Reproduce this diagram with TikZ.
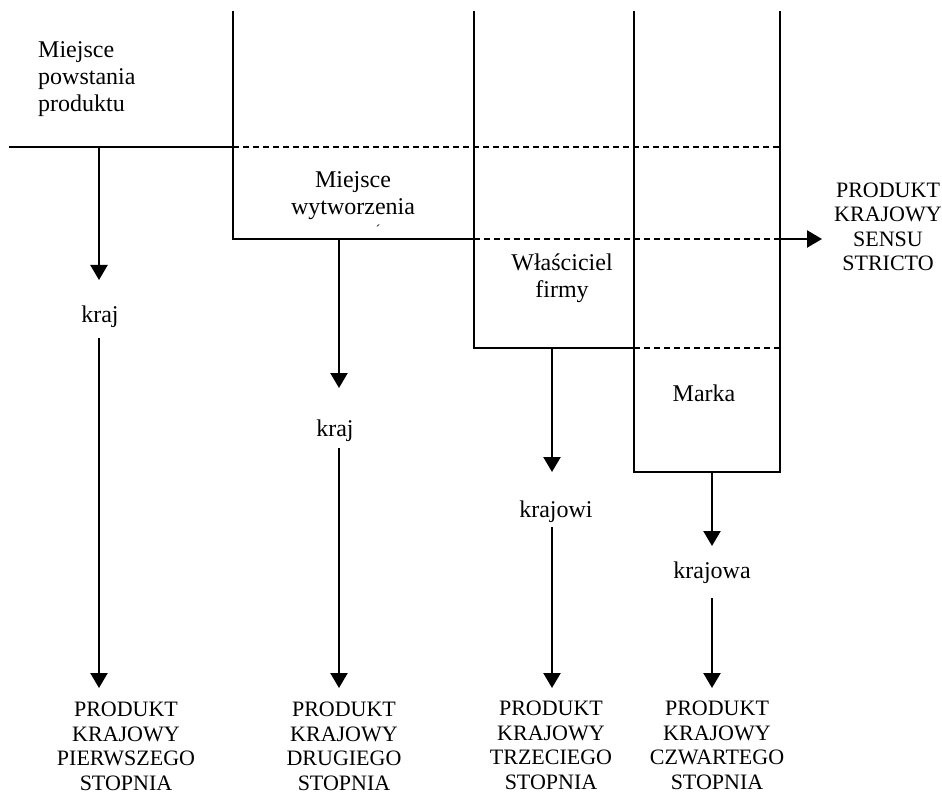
\documentclass[tikz,border=0pt]{standalone}
\usepackage{fontspec}
\setmainfont{Liberation Serif}
\usetikzlibrary{arrows.meta}
\begin{document}
\begin{tikzpicture}[x=1pt,y=-1pt,
  boxline/.style={line width=1.6pt},
  dashline/.style={line width=1.6pt,dash pattern=on 6pt off 4pt},
  arr/.style={line width=2.3pt,-{Triangle[length=15pt,width=17pt]}},
  lower/.style={inner sep=0pt,anchor=base,align=center,font=\fontsize{24}{27}\selectfont},
  caps/.style={inner sep=0pt,anchor=base,align=center,font=\fontsize{22}{24.5}\selectfont}]
\useasboundingbox (0,0) rectangle (942,794);

% frame lines
\coordinate (l0) at (9,147);
\coordinate (v1t) at (233,11);  \coordinate (v1m) at (233,147); \coordinate (v1b) at (233,239);
\coordinate (v2t) at (474,11);  \coordinate (v2m) at (474,239); \coordinate (v2b) at (474,348);
\coordinate (v3t) at (634,11);  \coordinate (v3m) at (634,348); \coordinate (v3b) at (634,472);
\coordinate (v4t) at (780,11);  \coordinate (v4a) at (780,147); \coordinate (v4b) at (780,239);
\coordinate (v4c) at (780,348); \coordinate (v4d) at (780,472);
\coordinate (rtip) at (822,239);

\draw[boxline] (l0) -- (v1m);
\draw[dashline] (v1m) -- (v4a);
\draw[boxline] (v1t) -- (v1b) -- (v2m);
\draw[dashline] (v2m) -- (v4b);
\draw[boxline] (v2t) -- (v2b) -- (v3m);
\draw[dashline] (v3m) -- (v4c);
\draw[boxline] (v3t) -- (v3b) -- (v4d) -- (v4t);
\draw[arr] (v4b) -- (rtip);

% texts (anchor=base is the baseline of the last line)
\node[lower,anchor=base west,align=left] (t1) at (38,112) {Miejsce\\powstania\\produktu};
\node[lower] (t2) at (353,215) {Miejsce\\wytworzenia};
\node[inner sep=0pt,font=\fontsize{14}{14}\selectfont] (acc) at (378,231) {\'{}};
\node[lower] (t3) at (562,298) {Właściciel\\firmy};
\node[lower] (t4) at (704,401) {Marka};
\node[caps] (ss) at (888,271) {PRODUKT\\KRAJOWY\\SENSU\\STRICTO};

\node[lower] (k1) at (100,323) {kraj};
\node[lower] (k2) at (335,436) {kraj};
\node[lower] (k3) at (556,517) {krajowi};
\node[lower] (k4) at (712,578) {krajowa};

\node[caps] (b1) at (126,790) {PRODUKT\\KRAJOWY\\PIERWSZEGO\\STOPNIA};
\node[caps] (b2) at (344,790) {PRODUKT\\KRAJOWY\\DRUGIEGO\\STOPNIA};
\node[caps] (b3) at (551,789) {PRODUKT\\KRAJOWY\\TRZECIEGO\\STOPNIA};
\node[caps] (b4) at (717,789) {PRODUKT\\KRAJOWY\\CZWARTEGO\\STOPNIA};

% arrows
\coordinate (a1s) at (99,147);  \coordinate (a1t) at (99,280);  \coordinate (a1r) at (99,338);  \coordinate (a1e) at (99,688);
\coordinate (a2s) at (339,239); \coordinate (a2t) at (339,388); \coordinate (a2r) at (339,448); \coordinate (a2e) at (339,688);
\coordinate (a3s) at (552,348); \coordinate (a3t) at (552,472); \coordinate (a3r) at (552,527); \coordinate (a3e) at (552,688);
\coordinate (a4s) at (712,472); \coordinate (a4t) at (712,546); \coordinate (a4r) at (712,598); \coordinate (a4e) at (712,688);

\draw[arr] (a1s) -- (a1t);
\draw[arr] (a1r) -- (a1e);
\draw[arr] (a2s) -- (a2t);
\draw[arr] (a2r) -- (a2e);
\draw[arr] (a3s) -- (a3t);
\draw[arr] (a3r) -- (a3e);
\draw[arr] (a4s) -- (a4t);
\draw[arr] (a4r) -- (a4e);
\end{tikzpicture}
\end{document}
